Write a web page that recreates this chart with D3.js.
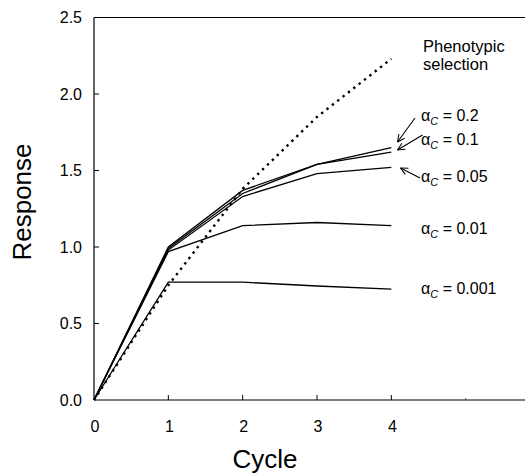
<!DOCTYPE html>
<html>
<head>
<meta charset="utf-8">
<script src="https://cdn.jsdelivr.net/npm/d3@7"></script>
<style>
  body { margin: 0; background: #fff; }
  svg { display: block; font-family: Arial, "Liberation Sans", sans-serif; }
</style>
</head>
<body>
<svg id="viz"></svg>
<script>
var width = 525;
var height = 474;

// data
var cycles = [0, 1, 2, 3, 4];
var phenotypic = [0, 0.75, 1.38, 1.85, 2.23];
var alpha02 = [0, 1.00, 1.37, 1.54, 1.65];
var alpha01 = [0, 0.99, 1.35, 1.54, 1.62];
var alpha005 = [0, 0.98, 1.33, 1.48, 1.52];
var alpha001 = [0, 0.97, 1.14, 1.16, 1.14];
var alpha0001 = [0, 0.77, 0.77, 0.745, 0.725];
var xTicks = [0, 1, 2, 3, 4, 5];
var xTickLabels = ["0", "1", "2", "3", "4", ""];
var yTicks = [0, 0.5, 1.0, 1.5, 2.0, 2.5];

var svg = d3.select("#viz")
    .attr("width", width)
    .attr("height", height);

var x = d3.scaleLinear().domain([0, 6]).range([94, 540]);
var y = d3.scaleLinear().domain([0, 2.5]).range([400, 17.5]);

// frame: left axis, bottom axis, top line
svg.append("line")
    .attr("x1", x(0)).attr("x2", x(0))
    .attr("y1", y(0)).attr("y2", y(2.5))
    .attr("stroke", "#000").attr("stroke-width", 1.2);
svg.append("line")
    .attr("x1", x(0)).attr("x2", width)
    .attr("y1", y(0)).attr("y2", y(0))
    .attr("stroke", "#000").attr("stroke-width", 1.2);
svg.append("line")
    .attr("x1", x(0)).attr("x2", width)
    .attr("y1", y(2.5)).attr("y2", y(2.5))
    .attr("stroke", "#000").attr("stroke-width", 1.2);

// x ticks (inward)
svg.selectAll(".xtick")
    .data(xTicks.filter(function (d) { return d > 0; }))
    .enter().append("line")
    .attr("class", "xtick")
    .attr("x1", function (d) { return x(d); })
    .attr("x2", function (d) { return x(d); })
    .attr("y1", y(0))
    .attr("y2", function (d) { return d === 5 ? y(0) - 2 : y(0) - 5; })
    .attr("stroke", "#000")
    .attr("stroke-width", function (d) { return d === 5 ? 0.6 : 1; });

svg.selectAll(".xlab")
    .data(xTicks)
    .enter().append("text")
    .attr("class", "xlab")
    .attr("x", function (d) { return x(d) + 1; })
    .attr("y", 432)
    .attr("text-anchor", "middle")
    .attr("font-size", 16)
    .text(function (d, i) { return xTickLabels[i]; });

// y ticks (inward)
svg.selectAll(".ytick")
    .data(yTicks.filter(function (d) { return d > 0 && d < 2.5; }))
    .enter().append("line")
    .attr("class", "ytick")
    .attr("x1", x(0)).attr("x2", x(0) + 5)
    .attr("y1", function (d) { return y(d); })
    .attr("y2", function (d) { return y(d); })
    .attr("stroke", "#000");

svg.selectAll(".ylab")
    .data(yTicks)
    .enter().append("text")
    .attr("class", "ylab")
    .attr("x", 82)
    .attr("y", function (d) { return y(d) + 5.8; })
    .attr("text-anchor", "end")
    .attr("font-size", 16)
    .text(function (d) { return d3.format(".1f")(d); });

// axis titles
svg.append("text")
    .attr("x", 265).attr("y", 468)
    .attr("text-anchor", "middle")
    .attr("font-size", 26)
    .text("Cycle");
svg.append("text")
    .attr("transform", "translate(31,202) rotate(-90)")
    .attr("text-anchor", "middle")
    .attr("font-size", 26)
    .text("Response");

// lines
var line = d3.line()
    .x(function (d, i) { return x(cycles[i]); })
    .y(function (d) { return y(d); });

[alpha02, alpha01, alpha005, alpha001, alpha0001].forEach(function (s) {
    svg.append("path")
        .datum(s)
        .attr("d", line)
        .attr("fill", "none")
        .attr("stroke", "#000")
        .attr("stroke-width", 1.3);
});

svg.append("path")
    .datum(phenotypic)
    .attr("d", line)
    .attr("fill", "none")
    .attr("stroke", "#000")
    .attr("stroke-width", 2.4)
    .attr("stroke-dasharray", "2.4,4.4");

// annotations
svg.append("text").attr("x", 423).attr("y", 52).attr("font-size", 16.5).text("Phenotypic");
svg.append("text").attr("x", 423).attr("y", 70).attr("font-size", 16.5).text("selection");

var alphaLabels = [
    { v: "0.2", y: 121 },
    { v: "0.1", y: 145 },
    { v: "0.05", y: 182 },
    { v: "0.01", y: 234 },
    { v: "0.001", y: 294 }
];

alphaLabels.forEach(function (a) {
    var t = svg.append("text")
        .attr("x", 421)
        .attr("y", a.y)
        .attr("font-size", 16);
    t.append("tspan").text("\u03b1");
    t.append("tspan")
        .attr("font-size", 11)
        .attr("font-style", "italic")
        .attr("dy", 4)
        .text("C");
    t.append("tspan")
        .attr("dy", -4)
        .text(" = " + a.v);
});

// arrows
var arrows = [
    { x1: 415, y1: 118, x2: 397.5, y2: 142 },
    { x1: 422.5, y1: 135, x2: 397.5, y2: 150 },
    { x1: 420, y1: 178, x2: 400.5, y2: 168 }
];

arrows.forEach(function (a) {
    svg.append("line")
        .attr("x1", a.x1).attr("y1", a.y1)
        .attr("x2", a.x2).attr("y2", a.y2)
        .attr("stroke", "#000").attr("stroke-width", 1.1);
    var ang = Math.atan2(a.y2 - a.y1, a.x2 - a.x1);
    var len = 8, spread = 0.45;
    [-spread, spread].forEach(function (s) {
        svg.append("line")
            .attr("x1", a.x2).attr("y1", a.y2)
            .attr("x2", a.x2 - len * Math.cos(ang + s))
            .attr("y2", a.y2 - len * Math.sin(ang + s))
            .attr("stroke", "#000").attr("stroke-width", 1.1);
    });
});
</script>
</body>
</html>
